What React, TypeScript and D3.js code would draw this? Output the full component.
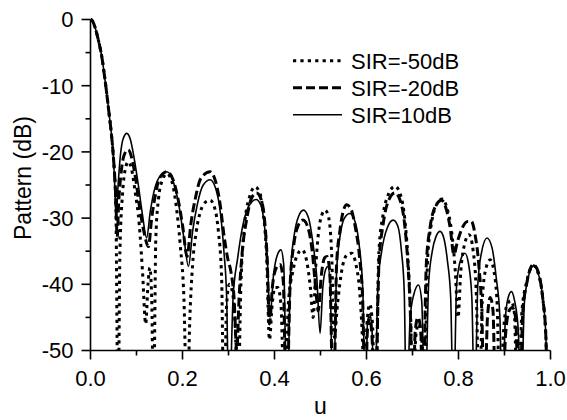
import React from 'react';
import * as d3 from 'd3';

const W = 567;
const H = 420;
const X0 = 90.5, X1 = 550.5, Y0 = 19.5, Y1 = 350.5;

const xTicks = [0, 0.2, 0.4, 0.6, 0.8, 1.0];
const xMinor = [0.1, 0.3, 0.5, 0.7, 0.9];
const yTicks = [0, -10, -20, -30, -40, -50];
const yMinor = [-5, -15, -25, -35, -45];
const seriesNames = ['SIR=-50dB', 'SIR=-20dB', 'SIR=10dB'];

const mainLobe: [number, number][] = [
  [0, 0], [0.005, -0.3], [0.01, -1.2], [0.015, -2.5], [0.02, -4], [0.025, -5.8],
  [0.03, -8.3], [0.035, -11], [0.04, -14], [0.045, -17], [0.05, -21],
];

const sirM50: [number, number][] = [
  [0.055, -28], [0.06, -60], [0.064, -35], [0.07, -26], [0.076, -22.5], [0.082, -21.5],
  [0.089, -22.5], [0.097, -26], [0.106, -31], [0.113, -38], [0.12, -46], [0.125, -40],
  [0.129, -37.5], [0.133, -42], [0.137, -60], [0.142, -33], [0.148, -27], [0.155, -24.5],
  [0.166, -23.3], [0.177, -24.5], [0.186, -28], [0.195, -34], [0.203, -42], [0.21, -60],
  [0.216, -45], [0.222, -37], [0.23, -32], [0.24, -28.8], [0.25, -27.6], [0.26, -27.3],
  [0.27, -28.5], [0.278, -32], [0.285, -39], [0.29, -60], [0.296, -43], [0.302, -40],
  [0.308, -41], [0.315, -47], [0.32, -60], [0.327, -40], [0.335, -31], [0.345, -27],
  [0.358, -25.3], [0.368, -26.2], [0.376, -29.5], [0.383, -36], [0.389, -48.4], [0.395, -43],
  [0.401, -40.5], [0.407, -40.5], [0.414, -43], [0.422, -60], [0.43, -43], [0.44, -38],
  [0.45, -35.5], [0.46, -34.8], [0.47, -36.5], [0.478, -40.5], [0.484, -45], [0.49, -37],
  [0.496, -32], [0.503, -29.5], [0.51, -28.8], [0.518, -30], [0.524, -35], [0.53, -48],
  [0.537, -43], [0.546, -38], [0.557, -35.6], [0.568, -35.3], [0.577, -37], [0.585, -41],
  [0.592, -50], [0.596, -60], [0.601, -46], [0.607, -43], [0.613, -46], [0.619, -60],
  [0.627, -35], [0.636, -29.5], [0.647, -26.5], [0.662, -25.2], [0.674, -26.5], [0.683, -30],
  [0.69, -36], [0.696, -45], [0.701, -60], [0.707, -48], [0.713, -46], [0.72, -48],
  [0.725, -60], [0.733, -36], [0.742, -30.5], [0.752, -28], [0.765, -27.1], [0.775, -28.5],
  [0.785, -32], [0.793, -38], [0.799, -45], [0.805, -38], [0.813, -34], [0.823, -32.5],
  [0.832, -35], [0.839, -42], [0.845, -60], [0.852, -42], [0.86, -37.5], [0.869, -36.3],
  [0.877, -38], [0.884, -43], [0.89, -60], [0.898, -47], [0.906, -43], [0.914, -42.5],
  [0.921, -44], [0.929, -60], [0.938, -44], [0.947, -40], [0.963, -37.2], [0.974, -38.5],
  [0.983, -42], [0.99, -48], [0.995, -60], [1.0, -60],
];

const sirM20: [number, number][] = [
  [0.055, -27], [0.058, -33], [0.061, -28], [0.066, -23.5], [0.073, -20.5], [0.082, -19.7],
  [0.09, -21], [0.098, -24], [0.107, -28.5], [0.116, -32], [0.126, -34.3], [0.133, -30],
  [0.141, -26.5], [0.15, -24], [0.166, -23], [0.18, -24.3], [0.19, -27], [0.2, -31],
  [0.21, -35.8], [0.218, -31], [0.228, -27], [0.24, -24], [0.26, -23], [0.272, -24.5],
  [0.282, -28], [0.29, -32.5], [0.298, -36], [0.305, -38], [0.312, -42], [0.318, -50],
  [0.323, -42], [0.33, -35], [0.34, -30], [0.35, -27], [0.361, -26.2], [0.37, -27],
  [0.378, -30], [0.384, -36], [0.389, -46], [0.396, -40], [0.404, -37.5], [0.412, -37],
  [0.419, -39.5], [0.426, -60], [0.434, -40], [0.442, -34], [0.451, -31.2], [0.462, -30.3],
  [0.473, -31.5], [0.482, -35], [0.49, -41], [0.495, -44], [0.502, -38.5], [0.509, -36],
  [0.514, -35.8], [0.52, -38], [0.528, -60], [0.535, -37], [0.542, -32], [0.55, -28.8],
  [0.557, -28], [0.566, -28.6], [0.576, -31.5], [0.585, -36], [0.592, -43], [0.597, -60],
  [0.602, -47], [0.607, -45], [0.612, -48], [0.619, -60], [0.627, -37], [0.636, -31],
  [0.647, -27.5], [0.662, -26.2], [0.674, -27.5], [0.683, -31], [0.69, -37], [0.696, -46],
  [0.7, -60], [0.706, -47], [0.712, -45], [0.718, -47], [0.722, -60], [0.73, -37],
  [0.738, -31.5], [0.748, -28.5], [0.763, -27.3], [0.774, -28.8], [0.782, -31.5], [0.79, -35.5],
  [0.798, -33.5], [0.808, -31.5], [0.82, -30.5], [0.828, -30.5], [0.836, -32.5], [0.844, -37],
  [0.851, -45], [0.856, -60], [0.863, -45], [0.869, -42], [0.875, -44], [0.881, -60],
  [0.895, -60], [0.902, -48], [0.91, -44], [0.917, -43.5], [0.924, -45], [0.932, -60],
  [0.94, -44], [0.948, -40], [0.963, -37], [0.974, -38.3], [0.983, -42], [0.99, -48],
  [0.995, -60], [1.0, -60],
];

const sirP10: [number, number][] = [
  [0.052, -24], [0.056, -29.5], [0.06, -25], [0.065, -20.5], [0.071, -18], [0.079, -17.2],
  [0.087, -18.2], [0.095, -21], [0.104, -25], [0.113, -29.5], [0.122, -33], [0.13, -29],
  [0.138, -26], [0.148, -24], [0.166, -23], [0.18, -24.5], [0.192, -28], [0.203, -33],
  [0.213, -37.3], [0.222, -32], [0.232, -28], [0.245, -25], [0.26, -24.2], [0.272, -25.5],
  [0.282, -29], [0.29, -35], [0.296, -42], [0.301, -60], [0.31, -42], [0.32, -36],
  [0.33, -31.5], [0.34, -28.8], [0.35, -27.6], [0.36, -27.2], [0.37, -28], [0.378, -31],
  [0.385, -37], [0.39, -45], [0.398, -38.5], [0.406, -35.6], [0.414, -34.8], [0.42, -37],
  [0.427, -60], [0.435, -38], [0.443, -32.5], [0.452, -29.8], [0.463, -28.8], [0.474, -30],
  [0.484, -34], [0.492, -39], [0.499, -47.4], [0.505, -40.5], [0.511, -37.8], [0.516, -37.3],
  [0.521, -40], [0.527, -60], [0.535, -38], [0.543, -32.5], [0.552, -30], [0.564, -29.3],
  [0.575, -30.5], [0.584, -34], [0.592, -41], [0.598, -60], [0.602, -46], [0.607, -44.5],
  [0.612, -47], [0.617, -60], [0.625, -40], [0.633, -35], [0.645, -31.5], [0.658, -30.3],
  [0.668, -31.2], [0.676, -35], [0.682, -41], [0.687, -60], [0.695, -45], [0.703, -41.5],
  [0.713, -40.1], [0.72, -42.5], [0.727, -60], [0.735, -40], [0.743, -35], [0.751, -32.8],
  [0.76, -32], [0.768, -33], [0.776, -36.5], [0.783, -42], [0.789, -60], [0.796, -40],
  [0.805, -36.2], [0.814, -35.3], [0.822, -37], [0.829, -42], [0.835, -60], [0.842, -40],
  [0.85, -35.2], [0.862, -33], [0.873, -34.5], [0.882, -39], [0.89, -45], [0.895, -60],
  [0.902, -45], [0.908, -42], [0.915, -41.1], [0.922, -42.5], [0.93, -47], [0.936, -60],
  [0.943, -43], [0.95, -39.5], [0.963, -37.2], [0.974, -38.5], [0.983, -42], [0.99, -48],
  [0.995, -60], [1.0, -60],
];

const seriesData = [mainLobe.concat(sirM50), mainLobe.concat(sirM20), mainLobe.concat(sirP10)];
const styles = [
  { width: 3, dash: '3.2,4.2' },
  { width: 3, dash: '9,4' },
  { width: 1.6, dash: '' },
];

const FONT = 'Liberation Sans, Arial, sans-serif';

export default function App() {
  const x = d3.scaleLinear().domain([0, 1]).range([X0, X1]);
  const y = d3.scaleLinear().domain([-50, 0]).range([Y1, Y0]);
  const line = d3.line<[number, number]>()
    .x((d) => x(d[0]))
    .y((d) => y(d[1]))
    .curve(d3.curveMonotoneX);

  return (
    <svg width={W} height={H} style={{ display: 'block', position: 'absolute', left: 0, top: 0, background: '#fff' }}>
      <defs>
        <clipPath id="plotclip">
          <rect x={X0} y={0} width={X1 - X0 + 10} height={Y1} />
        </clipPath>
      </defs>
      <g clipPath="url(#plotclip)">
        {seriesData.map((d, i) => (
          <path key={i} d={line(d) || ''} fill="none" stroke="#000"
            strokeWidth={styles[i].width} strokeDasharray={styles[i].dash}
            strokeLinejoin="round" />
        ))}
      </g>
      <line x1={X0} x2={X0} y1={Y0} y2={Y1} stroke="#000" strokeWidth={1.6} />
      <line x1={X0} x2={X1} y1={Y1} y2={Y1} stroke="#000" strokeWidth={1.6} />
      {yTicks.map((t) => (
        <g key={'y' + t}>
          <line x1={X0 - 9} x2={X0} y1={y(t)} y2={y(t)} stroke="#000" strokeWidth={1.6} />
          <text x={X0 - 17} y={y(t)} dy="0.36em" textAnchor="end" fontFamily={FONT} fontSize={22}>{t}</text>
        </g>
      ))}
      {yMinor.map((t) => (
        <line key={'ym' + t} x1={X0 - 5} x2={X0} y1={y(t)} y2={y(t)} stroke="#000" strokeWidth={1.6} />
      ))}
      {xTicks.map((t) => (
        <g key={'x' + t}>
          <line x1={x(t)} x2={x(t)} y1={Y1} y2={Y1 + 9} stroke="#000" strokeWidth={1.6} />
          <text x={x(t)} y={Y1 + 35} textAnchor="middle" fontFamily={FONT} fontSize={22}>{t.toFixed(1)}</text>
        </g>
      ))}
      {xMinor.map((t) => (
        <line key={'xm' + t} x1={x(t)} x2={x(t)} y1={Y1} y2={Y1 + 5} stroke="#000" strokeWidth={1.6} />
      ))}
      <text x={(X0 + X1) / 2} y={414} textAnchor="middle" fontFamily={FONT} fontSize={23}>u</text>
      <text transform={`translate(30.5,178) rotate(-90)`} textAnchor="middle" fontFamily={FONT} fontSize={23}>Pattern (dB)</text>
      {seriesNames.map((n, i) => {
        const ly = 60.7 + i * 27;
        return (
          <g key={n}>
            <line x1={293} x2={342} y1={ly} y2={ly} stroke="#000" strokeWidth={styles[i].width}
              strokeDasharray={styles[i].dash} />
            <text x={351} y={ly} dy="0.36em" fontFamily={FONT} fontSize={22}>{n}</text>
          </g>
        );
      })}
    </svg>
  );
}
